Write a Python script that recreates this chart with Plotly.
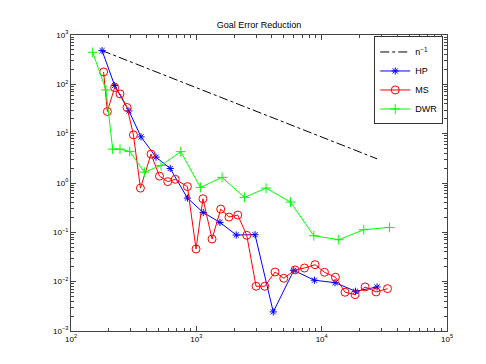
import plotly.graph_objects as go

# %% data
hp_n = [177, 223, 290, 362, 477, 619, 849, 1135, 1543, 2082, 2941, 4109, 5990, 8760, 12790, 18610, 27680]
hp_err = [483, 94.6, 28.9, 8.61, 3.34, 1.97, 0.495, 0.252, 0.159, 0.0882, 0.0894, 0.00244, 0.0169, 0.0107, 0.00954, 0.00639, 0.00781]

ms_n = [182, 195, 223, 246, 280, 315, 358, 435, 508, 591, 679, 849, 995, 1129, 1335, 1565, 1820, 2140, 2525,
        2995, 3515, 4247, 4983, 6135, 7290, 8857, 10530, 12880, 15370, 18480, 22210, 27180, 33500]
ms_err = [178, 28.1, 86.1, 63.9, 33.9, 9.46, 0.788, 3.85, 1.38, 1.067, 1.188, 0.846, 0.0459, 0.479, 0.0732, 0.296, 0.204, 0.224, 0.087,
          0.00807, 0.00807, 0.0157, 0.0117, 0.0173, 0.0189, 0.0221, 0.0155, 0.0123, 0.0061, 0.00546, 0.00781, 0.00619, 0.00722]

dwr_n = [149, 190, 215, 246, 294, 385, 523, 751, 1078, 1604, 2420, 3600, 5636, 8650, 13690, 21680, 34760]
dwr_err = [446, 77, 4.86, 4.86, 4.36, 1.66, 2.27, 4.32, 0.815, 1.30, 0.511, 0.788, 0.411, 0.0853, 0.0708, 0.113, 0.126]

ref_n = [177, 27680]
ref_err = [483, 3.09]

x_exp = [2, 3, 4, 5]
y_exp = [-3, -2, -1, 0, 1, 2, 3]

# %% figure
fig = go.Figure()
fig.add_trace(go.Scatter(x=ref_n, y=ref_err, mode="lines", name="n<sup>\u22121</sup>",
                         line=dict(color="black", width=1, dash="dashdot")))
fig.add_trace(go.Scatter(x=hp_n, y=hp_err, mode="lines+markers", name="HP",
                         line=dict(color="#0000ff", width=1),
                         marker=dict(symbol="asterisk-open", size=6, color="#0000ff", line=dict(color="#0000ff", width=1))))
fig.add_trace(go.Scatter(x=ms_n, y=ms_err, mode="lines+markers", name="MS",
                         line=dict(color="#ff0000", width=1),
                         marker=dict(symbol="circle-open", size=8, color="#ff0000", line=dict(color="#ff0000", width=1))))
fig.add_trace(go.Scatter(x=dwr_n, y=dwr_err, mode="lines+markers", name="DWR",
                         line=dict(color="#00ff00", width=1),
                         marker=dict(symbol="cross-thin-open", size=7, color="#00ff00", line=dict(color="#00ff00", width=1))))

def minor_vals(exps):
    return [m * 10.0 ** e for e in exps[:-1] for m in range(2, 10)]

axis_common = dict(type="log", showgrid=False, zeroline=False, showline=True, linecolor="#444444",
                   linewidth=1, mirror="allticks", ticks="inside", ticklen=5, tickcolor="#444444",
                   tickfont=dict(family="Liberation Sans, Arial", size=8, color="black"))

fig.update_xaxes(range=[2, 5], tickmode="array", tickvals=[10.0 ** e for e in x_exp],
                 ticktext=["10<sup>%s</sup>" % str(e).replace("-", "\u2212") for e in x_exp],
                 minor=dict(tickmode="array", tickvals=minor_vals(x_exp), ticks="inside", ticklen=3, tickcolor="#444444"),
                 **axis_common)
fig.update_yaxes(range=[-3, 3], tickmode="array", tickvals=[10.0 ** e for e in y_exp],
                 ticktext=["10<sup>%s</sup>" % str(e).replace("-", "\u2212") for e in y_exp],
                 minor=dict(tickmode="array", tickvals=minor_vals(y_exp), ticks="inside", ticklen=3, tickcolor="#444444"),
                 **axis_common)

fig.update_layout(
    width=486, height=364,
    margin=dict(l=63, r=47, t=27, b=41),
    paper_bgcolor="white", plot_bgcolor="white",
    font=dict(family="Liberation Sans, Arial", size=9, color="black"),
    title=dict(text="Goal Error Reduction", x=0.5, xref="paper", y=1 - 17 / 364, yanchor="middle",
               font=dict(size=9)),
    legend=dict(x=0.99, y=0.995, xanchor="right", yanchor="top", bgcolor="white",
                bordercolor="#333333", borderwidth=1, font=dict(size=9),
                itemwidth=30, tracegroupgap=0),
    showlegend=True,
)

fig.write_html("out.html")
